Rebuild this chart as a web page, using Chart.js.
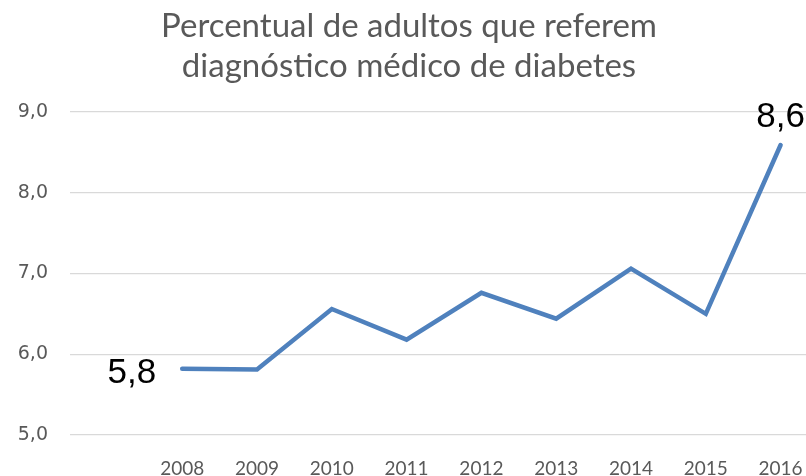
<!DOCTYPE html>
<html>
<head>
<meta charset="utf-8">
<script src="https://cdn.jsdelivr.net/npm/chart.js@4/dist/chart.umd.min.js"></script>
<style>
html, body { margin: 0; padding: 0; background: #fff; overflow: hidden; }
#box { width: 832px; height: 476px; }
</style>
</head>
<body>
<div id="box"><canvas id="graph"></canvas></div>
<script>
// données
const anos = ["", "2008", "2009", "2010", "2011", "2012", "2013", "2014", "2015", "2016"];
const percentual = [null, 5.82, 5.81, 6.56, 6.18, 6.76, 6.44, 7.06, 6.50, 8.59];
const titulo = ["Percentual de adultos que referem", "diagnóstico médico de diabetes"];
const yMin = 5, yMax = 9, yPasso = 1;

function virgula(v) { return Number(v).toFixed(1).replace(".", ","); }

/* étiquettes du premier et du dernier point */
const etiquettes = {
  id: "etiquettes",
  afterDatasetsDraw(chart) {
    const ctx = chart.ctx;
    const pts = chart.getDatasetMeta(0).data;
    const premier = 1, dernier = percentual.length - 1;
    ctx.save();
    ctx.fillStyle = "#000";
    ctx.font = "35px 'Liberation Sans', Arial, sans-serif";
    ctx.textBaseline = "alphabetic";
    ctx.textAlign = "right";
    ctx.fillText(virgula(percentual[premier]), pts[premier].x - 26, pts[premier].y + 14);
    ctx.textAlign = "center";
    ctx.fillText(virgula(percentual[dernier]), pts[dernier].x, pts[dernier].y - 18);
    ctx.restore();
  }
};

new Chart(document.getElementById("graph"), {
  type: "line",
  data: {
    labels: anos,
    datasets: [{
      data: percentual,
      borderColor: "#4f81bd",
      borderWidth: 4.5,
      borderCapStyle: "round",
      borderJoinStyle: "miter",
      pointRadius: 0,
      tension: 0,
      fill: false
    }]
  },
  options: {
    responsive: true,
    maintainAspectRatio: false,
    animation: false,
    layout: { padding: { left: 0, right: 14, top: 0, bottom: 0 } },
    plugins: {
      legend: { display: false },
      tooltip: { enabled: false },
      title: {
        display: true,
        text: titulo,
        color: "#595959",
        font: { family: "Lato, 'Open Sans', sans-serif", size: 33, weight: "normal", lineHeight: 1.21 },
        padding: { top: 6, bottom: 26 }
      }
    },
    scales: {
      x: {
        offset: true,
        grid: { display: false },
        border: { display: false },
        ticks: {
          color: "#595959",
          font: { family: "Lato, 'Open Sans', sans-serif", size: 19 },
          padding: 14,
          maxRotation: 0,
          autoSkip: false
        },
        afterFit(s) { s.height = 41; }
      },
      y: {
        min: yMin,
        max: yMax,
        grid: { color: "#d9d9d9", lineWidth: 1.3, drawTicks: false },
        border: { display: false },
        ticks: {
          stepSize: yPasso,
          color: "#595959",
          font: { family: "'DejaVu Sans', sans-serif", size: 19 },
          padding: 22,
          callback: v => virgula(v)
        },
        afterFit(s) { s.width = 70; }
      }
    }
  },
  plugins: [etiquettes]
});
</script>
</body>
</html>
